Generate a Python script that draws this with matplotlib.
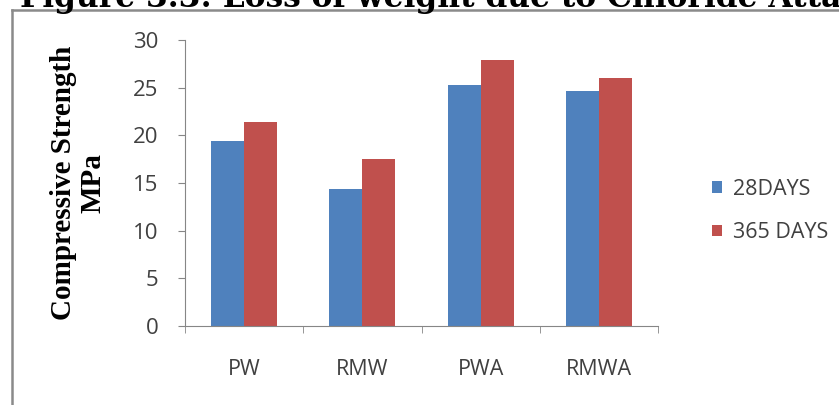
import numpy as np
import matplotlib.pyplot as plt
from matplotlib.lines import Line2D

categories = ['PW', 'RMW', 'PWA', 'RMWA']
days_28 = [19.4, 14.4, 25.3, 24.6]
days_365 = [21.4, 17.5, 27.9, 26.0]
series_names = ['28DAYS', '365 DAYS']
yticks = [0, 5, 10, 15, 20, 25, 30]

W, H = 839, 405
fig = plt.figure(figsize=(W / 100, H / 100), dpi=100)

# caption line, partly cut off at the top edge
fig.text(20 / W, 1 - 7 / H, 'Figure 3.3: Loss of weight due to Chloride Attack',
         family='DejaVu Serif', weight='bold', fontsize=22.5, va='baseline', ha='left')

# chart frame (top and left edges only)
fig.add_artist(Line2D([12 / W, 1], [1 - 10 / H, 1 - 10 / H], color='#8a8a8a', lw=1.8,
                      transform=fig.transFigure))
fig.add_artist(Line2D([12 / W, 12 / W], [0, 1 - 10 / H], color='#8a8a8a', lw=1.8,
                      transform=fig.transFigure))

ax = fig.add_axes([185 / W, 1 - 326 / H, (658 - 185) / W, (326 - 40) / H])
x = np.arange(len(categories))
bw = 0.28
ax.bar(x - bw / 2, days_28, bw, color='#4F81BD', label=series_names[0])
ax.bar(x + bw / 2, days_365, bw, color='#C0504D', label=series_names[1])

ax.set_xlim(-0.5, len(categories) - 0.5)
ax.set_ylim(0, 30)
ax.set_yticks(yticks)
ax.set_xticks(x)
ax.set_xticklabels(categories)
ax.set_xticks(np.arange(-0.5, len(categories)), minor=True)

axis_col = '#868686'
for s in ['top', 'right']:
    ax.spines[s].set_visible(False)
for s in ['left', 'bottom']:
    ax.spines[s].set_color(axis_col)
ax.tick_params(axis='x', which='major', length=0, pad=24, labelsize=15.5, labelcolor='#404040')
ax.tick_params(axis='x', which='minor', length=5, color=axis_col)
ax.tick_params(axis='y', length=5, color=axis_col, pad=14, labelsize=16, labelcolor='#404040')
for lab in ax.get_xticklabels() + ax.get_yticklabels():
    lab.set_family('Open Sans')

ax.set_ylabel('Compressive Strength\nMPa', family='Liberation Serif', weight='bold',
              fontsize=21, linespacing=1.15)
ax.yaxis.set_label_coords(-0.165, 0.5)

leg = fig.legend(loc='center left', bbox_to_anchor=(693 / W, 1 - 211 / H), frameon=False,
                 prop={'family': 'Open Sans', 'size': 15.5}, labelcolor='#404040',
                 handlelength=0.45, handleheight=0.45, handletextpad=0.5, labelspacing=1.05)

fig.savefig('out.png', dpi=100)
